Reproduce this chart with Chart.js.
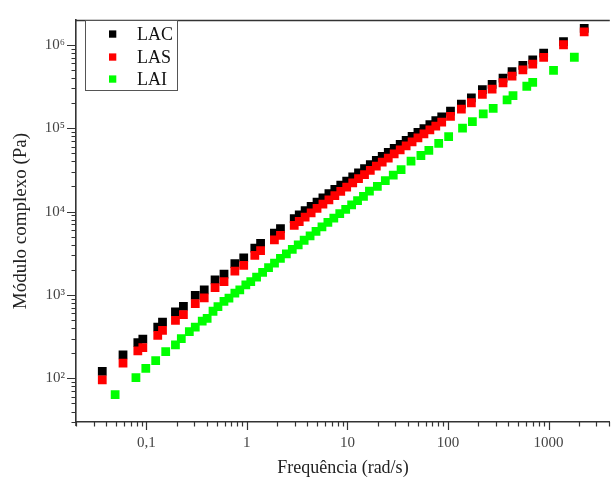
<!DOCTYPE html>
<html>
<head>
<meta charset="utf-8">
<script src="https://cdn.jsdelivr.net/npm/chart.js@4.4.1/dist/chart.umd.min.js"></script>
<style>
  html,body{margin:0;padding:0;background:#fff;overflow:hidden}
  #wrap{position:relative;width:616px;height:481px}
</style>
</head>
<body>
<div id="wrap"><canvas id="chart"></canvas></div>
<script>
/* =========================================================
   DATA
   ========================================================= */
const FREQ_LAC = [0.0365,0.0587,0.0824,0.0924,0.130,0.145,0.195,0.234,0.307,0.377,
  0.483,0.593,0.760,0.931,1.20,1.37,1.88,2.16,2.96,3.32,
  3.80,4.36,4.99,5.71,6.55,7.50,8.59,9.84,11.3,12.9,
  14.8,16.9,19.4,22.2,25.5,29.2,33.5,38.4,44.0,50.3,
  57.7,66.1,75.7,86.7,106,136,171,220,275,353,
  434,556,697,895,1410,2265];
const VAL_LAC = [121,191,269,295,412,473,625,731,986,1153,
  1514,1780,2377,2780,3648,4150,5520,6230,8230,9100,
  10250,11540,12990,14600,16410,18430,20680,23210,26030,29160,
  32680,36580,40950,45800,51200,57320,64000,71440,79700,88860,
  99000,110300,122800,136600,160300,194400,231200,290000,335000,398000,
  475000,565000,660000,795000,1090000,1570000];
const VAL_LAS = [96,152,214,234,327,376,496,580,789,922,
  1226,1442,1932,2260,2991,3403,4582,5171,6847,7600,
  8560,9670,10910,12260,13820,15570,17470,19680,22130,24790,
  27810,31200,35010,39160,43830,49120,54910,61370,68540,76420,
  85240,95080,105980,118000,138700,169100,201600,253800,294100,350200,
  419400,500000,585400,706800,1000000,1430000];
const FREQ_LAI = [0.0490,0.0789,0.0989,0.124,0.156,0.195,0.223,0.268,0.307,0.360,
  0.403,0.461,0.516,0.592,0.664,0.760,0.851,0.977,1.094,1.250,
  1.435,1.644,1.884,2.158,2.472,2.831,3.243,3.715,4.256,4.875,
  5.585,6.397,7.328,8.395,9.616,11.02,12.62,14.45,16.56,19.86,
  23.82,28.58,34.20,42.95,53.83,64.57,80.91,101.6,139.6,175.0,
  224.4,281.8,387.3,443.6,608.1,696.6,1122,1807];
const VAL_LAI = [64,102,132,163,209,253,300,363,412,486,
  523,638,725,837,916,1050,1153,1321,1445,1641,
  1871,2127,2415,2743,3111,3528,3998,4529,5127,5800,
  6559,7410,8369,9447,10650,12010,13530,15240,17600,20070,
  23470,27410,31910,40200,47000,54200,65500,79250,100000,120000,
  148000,173000,218000,246000,318000,354800,492000,708000];

const X_TICKS = [0.1,1,10,100,1000];
const X_TICK_LABELS = ['0,1','1','10','100','1000'];
const Y_TICKS = [100,1000,10000,100000,1000000];
const Y_TICK_LABELS = ['10\u00B2','10\u00B3','10\u2074','10\u2075','10\u2076'];

const SERIES = ['LAC','LAS','LAI'];
const COLORS = ['#000000','#ff0000','#00ff00'];

const SERIF = "'Liberation Serif','Times New Roman',serif";
const AXIS = '#333333';

/* =========================================================
   PLUGIN: log tick marks, frame, legend
   ========================================================= */
function logTickValues(min,max){
  const out = [];
  for (let d=Math.floor(Math.log10(min)); d<=Math.ceil(Math.log10(max)); d++){
    for (let k=1;k<10;k++){
      const v = k*Math.pow(10,d);
      if (v>=min*0.999 && v<=max*1.001) out.push({ v, major:k===1 });
    }
  }
  return out;
}

const framePlugin = {
  id:'frame',
  afterDraw(chart){
    const ctx = chart.ctx, a = chart.chartArea;
    const xs = chart.scales.x, ys = chart.scales.y;
    ctx.save();
    ctx.strokeStyle = AXIS;
    ctx.lineWidth = 1.2;
    ctx.beginPath();
    logTickValues(xs.min, xs.max).forEach(t=>{
      const px = Math.round(xs.getPixelForValue(t.v))+0.5;
      ctx.moveTo(px, a.bottom);
      ctx.lineTo(px, a.bottom + (t.major?8:4.5));
    });
    logTickValues(ys.min, ys.max).forEach(t=>{
      const py = Math.round(ys.getPixelForValue(t.v))+0.5;
      ctx.moveTo(a.left, py);
      ctx.lineTo(a.left - (t.major?9:4.5), py);
    });
    ctx.stroke();

    // top frame line, y axis running slightly below x axis
    ctx.lineWidth = 1.6;
    ctx.beginPath();
    ctx.moveTo(a.left, a.top+0.5); ctx.lineTo(a.right, a.top+0.5);
    ctx.moveTo(a.left, a.bottom); ctx.lineTo(a.left, a.bottom+4);
    ctx.stroke();

    // legend
    const lx=85.5, ly=20.5, lw=92, lh=70;
    ctx.fillStyle = '#fff';
    ctx.fillRect(lx,ly,lw,lh);
    ctx.strokeStyle = '#555';
    ctx.lineWidth = 1;
    ctx.strokeRect(lx,ly,lw,lh);
    const rows = [34,57,79];
    ctx.font = '18px ' + SERIF;
    ctx.textBaseline = 'middle';
    ctx.textAlign = 'left';
    chart.data.datasets.forEach((ds,i)=>{
      ctx.fillStyle = ds.backgroundColor;
      ctx.fillRect(109, rows[i]-3.6, 7.3, 7.3);
      ctx.fillStyle = '#111';
      ctx.fillText(ds.label, 137, rows[i]+1);
    });
    ctx.restore();
  }
};

/* =========================================================
   CHART
   ========================================================= */
const toPts = (xs,ys) => xs.map((f,i)=>({ x:f, y:ys[i] }));

new Chart(document.getElementById('chart'), {
  type:'scatter',
  data:{ datasets:[
    { label:SERIES[0], data:toPts(FREQ_LAC,VAL_LAC), backgroundColor:COLORS[0], order:3 },
    { label:SERIES[1], data:toPts(FREQ_LAC,VAL_LAS), backgroundColor:COLORS[1], order:2 },
    { label:SERIES[2], data:toPts(FREQ_LAI,VAL_LAI), backgroundColor:COLORS[2], order:1 }
  ]},
  options:{
    responsive:true, maintainAspectRatio:false, animation:false,
    layout:{ padding:{ top:15, right:0, bottom:0, left:0 } },
    elements:{ point:{ pointStyle:'rect', radius:6.2, borderWidth:0, hoverRadius:6.2 } },
    plugins:{ legend:{ display:false }, tooltip:{ enabled:false } },
    scales:{
      x:{
        type:'logarithmic', min:0.02, max:4070,
        afterFit:(s)=>{ s.height = 59; },
        afterBuildTicks:(s)=>{ s.ticks = X_TICKS.map(v=>({ value:v })); },
        grid:{ display:false, drawTicks:false },
        border:{ display:true, color:AXIS, width:1.6 },
        ticks:{ autoSkip:false, maxRotation:0, padding:12, color:'#444',
          font:{ family:SERIF, size:15 },
          callback:(v,i)=> X_TICK_LABELS[i] },
        title:{ display:true, text:'Frequência (rad/s)', color:'#222',
          font:{ family:SERIF, size:18 }, padding:{ top:0, bottom:2 } }
      },
      y:{
        type:'logarithmic', min:30, max:1980000,
        afterFit:(s)=>{ s.width = 76; },
        afterBuildTicks:(s)=>{ s.ticks = Y_TICKS.map(v=>({ value:v })); },
        grid:{ display:false, drawTicks:false },
        border:{ display:true, color:AXIS, width:1.6 },
        ticks:{ autoSkip:false, padding:11, color:'#444',
          font:{ family:SERIF, size:15 },
          callback:(v,i)=> Y_TICK_LABELS[i] },
        title:{ display:true, text:'Módulo complexo (Pa)', color:'#222',
          font:{ family:SERIF, size:19 }, padding:{ top:10, bottom:0 } }
      }
    }
  },
  plugins:[framePlugin]
});
</script>
</body>
</html>
